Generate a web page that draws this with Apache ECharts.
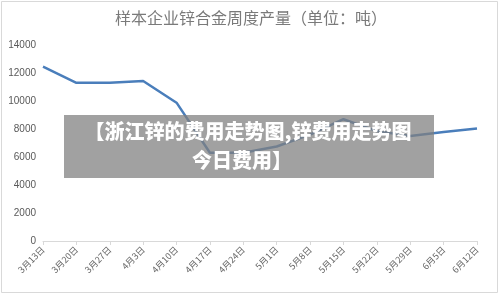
<!DOCTYPE html>
<html>
<head>
<meta charset="utf-8">
<script src="https://cdn.jsdelivr.net/npm/echarts@6/dist/echarts.min.js"></script>
<style>
html,body{margin:0;padding:0;background:#fff;}
#c{width:500px;height:294px;}
</style>
</head>
<body>
<div id="c"></div>
<script>
const titleText = '样本企业锌合金周度产量（单位：吨）';
const categories = ['3月13日','3月20日','3月27日','4月3日','4月10日','4月17日','4月24日','5月1日','5月8日','5月15日','5月22日','5月29日','6月5日','6月12日'];
const output = [12450, 11300, 11300, 11430, 9880, 6300, 6300, 6750, 7600, 8700, 7850, 7500, 7780, 8030];
const yTicks = [0, 2000, 4000, 6000, 8000, 10000, 12000, 14000];
const overlayLine1 = '【浙江锌的费用走势图,锌费用走势图';
const overlayLine2 = '今日费用】';

const chart = echarts.init(document.getElementById('c'), null, {renderer: 'canvas'});
chart.setOption({
  animation: false,
  backgroundColor: '#fff',
  title: {
    text: titleText,
    left: 246,
    textAlign: 'center',
    top: 5,
    textStyle: {fontFamily: 'Noto Sans CJK SC', fontSize: 16, fontWeight: 'normal', color: '#7a7a7a'}
  },
  grid: {left: 43, right: 23, top: 45, bottom: 53},
  xAxis: {
    type: 'category',
    data: categories,
    boundaryGap: false,
    axisLine: {lineStyle: {color: '#d9d9d9'}},
    axisTick: {show: true, length: 4, lineStyle: {color: '#d9d9d9'}},
    axisLabel: {rotate: 45, fontSize: 9, color: '#666', margin: 7, fontFamily: 'Noto Sans CJK SC', interval: 0}
  },
  yAxis: {
    type: 'value',
    min: yTicks[0],
    max: yTicks[yTicks.length - 1],
    interval: 2000,
    axisLine: {show: false},
    axisTick: {show: false},
    splitLine: {show: false},
    axisLabel: {fontSize: 10, color: '#595959', margin: 7, fontFamily: 'Liberation Sans', formatter: v => String(v)}
  },
  series: [{
    type: 'line',
    data: output,
    symbol: 'none',
    lineStyle: {color: '#4a7ebb', width: 2.5},
    z: 2
  }],
  graphic: [
    {
      type: 'rect',
      shape: {x: 1.5, y: 1.5, width: 496, height: 291},
      style: {fill: 'none', stroke: '#d9d9d9', lineWidth: 1},
      z: 0, silent: true
    },
    {
      type: 'rect',
      shape: {x: 64, y: 115, width: 370, height: 63},
      style: {fill: 'rgba(128,128,128,0.74)'},
      z: 100
    },
    {
      type: 'text',
      x: 248, y: 131,
      style: {text: overlayLine1, fill: '#fff', font: '900 20px "Noto Sans CJK SC"', textAlign: 'center', textVerticalAlign: 'middle'},
      z: 101
    },
    {
      type: 'text',
      x: 242, y: 160,
      style: {text: overlayLine2, fill: '#fff', font: '900 20px "Noto Sans CJK SC"', textAlign: 'center', textVerticalAlign: 'middle'},
      z: 101
    }
  ]
});
</script>
</body>
</html>
